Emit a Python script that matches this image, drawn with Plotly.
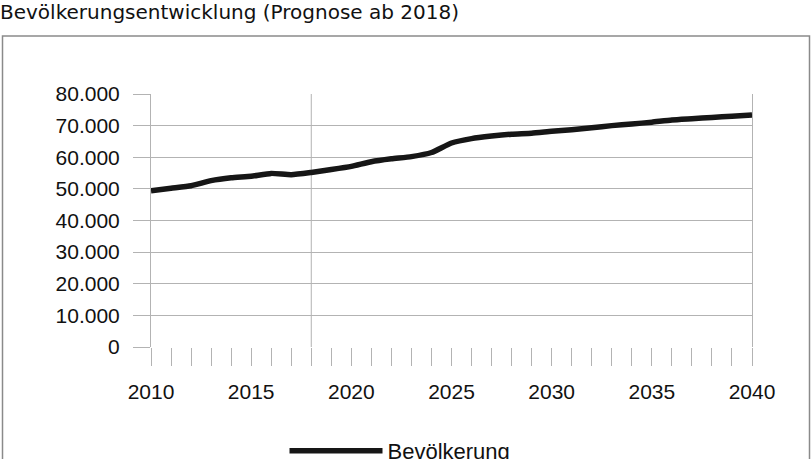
import plotly.graph_objects as go

# population development, forecast from 2018 on
years = list(range(2010, 2041))
population = [49400, 50200, 51000, 52600, 53500, 54000, 54900, 54500, 55200, 56100,
              57100, 58600, 59500, 60200, 61500, 64500, 65900, 66700, 67300, 67600,
              68200, 68700, 69300, 70000, 70500, 71100, 71800, 72200, 72600, 73000,
              73400]
prognose_start = 2018
series_name = "Bevölkerung"
title_text = "Bevölkerungsentwicklung (Prognose ab 2018)"

W, H = 812, 459
# plot area in page pixels: x 151..752, y 94..347
ML, MR, MT, MB = 151, 812 - 752, 94, 459 - 347
pw, ph = W - ML - MR, H - MT - MB

def px_x(v):
    return (v - ML) / pw

def px_y(v):
    return (H - MB - v) / ph

grid = "#b3b3b3"
font = "Liberation Sans"

fig = go.Figure()
fig.add_trace(go.Scatter(x=years, y=population, name=series_name, mode="lines",
                         line=dict(color="#161616", width=5.5, shape="spline", smoothing=0.5)))

fig.add_vline(x=prognose_start, line=dict(color=grid, width=1), layer="below")

# outer chart frame
fig.add_shape(type="rect", xref="paper", yref="paper",
              x0=px_x(2.5), x1=px_x(809.5), y0=px_y(36), y1=px_y(475),
              line=dict(color="#8a8a8a", width=1.5), fillcolor="rgba(0,0,0,0)")

fig.update_layout(
    width=W, height=H,
    margin=dict(l=ML, r=MR, t=MT, b=MB, autoexpand=False),
    paper_bgcolor="white", plot_bgcolor="white",
    separators=",.",
    font=dict(family=font, color="#111111", size=21),
    title=dict(text=title_text, x=0.0, xref="container", xanchor="left",
               y=1 - 4.5 / H, yref="container", yanchor="top",
               font=dict(family="DejaVu Sans", size=20, color="#111111")),
    showlegend=True,
    legend=dict(orientation="h", x=px_x(400), xanchor="center",
                y=px_y(451), yanchor="middle", itemwidth=93,
                font=dict(size=22), bgcolor="rgba(0,0,0,0)"),
    xaxis=dict(range=[2010, 2040], tick0=2010, dtick=5, showgrid=False,
               zeroline=False, showline=False,
               ticks="outside", ticklen=18, tickcolor=grid, tickwidth=1,
               minor=dict(dtick=1, ticks="outside", ticklen=18, tickcolor=grid,
                          showgrid=False),
               ticklabelstandoff=8),
    yaxis=dict(range=[0, 80000], dtick=10000, tickformat=",d",
               showgrid=True, gridcolor=grid, gridwidth=1,
               zeroline=False, showline=True, linecolor=grid, linewidth=1, mirror=True,
               ticks="outside", ticklen=17, tickcolor=grid,
               ticklabelstandoff=9),
)

# drop the default 8px page margin so the figure sits at the window corner
fig.write_html("out.html", config={"displayModeBar": False},
               post_script="document.body.style.margin='0';document.body.style.overflow='hidden';")
